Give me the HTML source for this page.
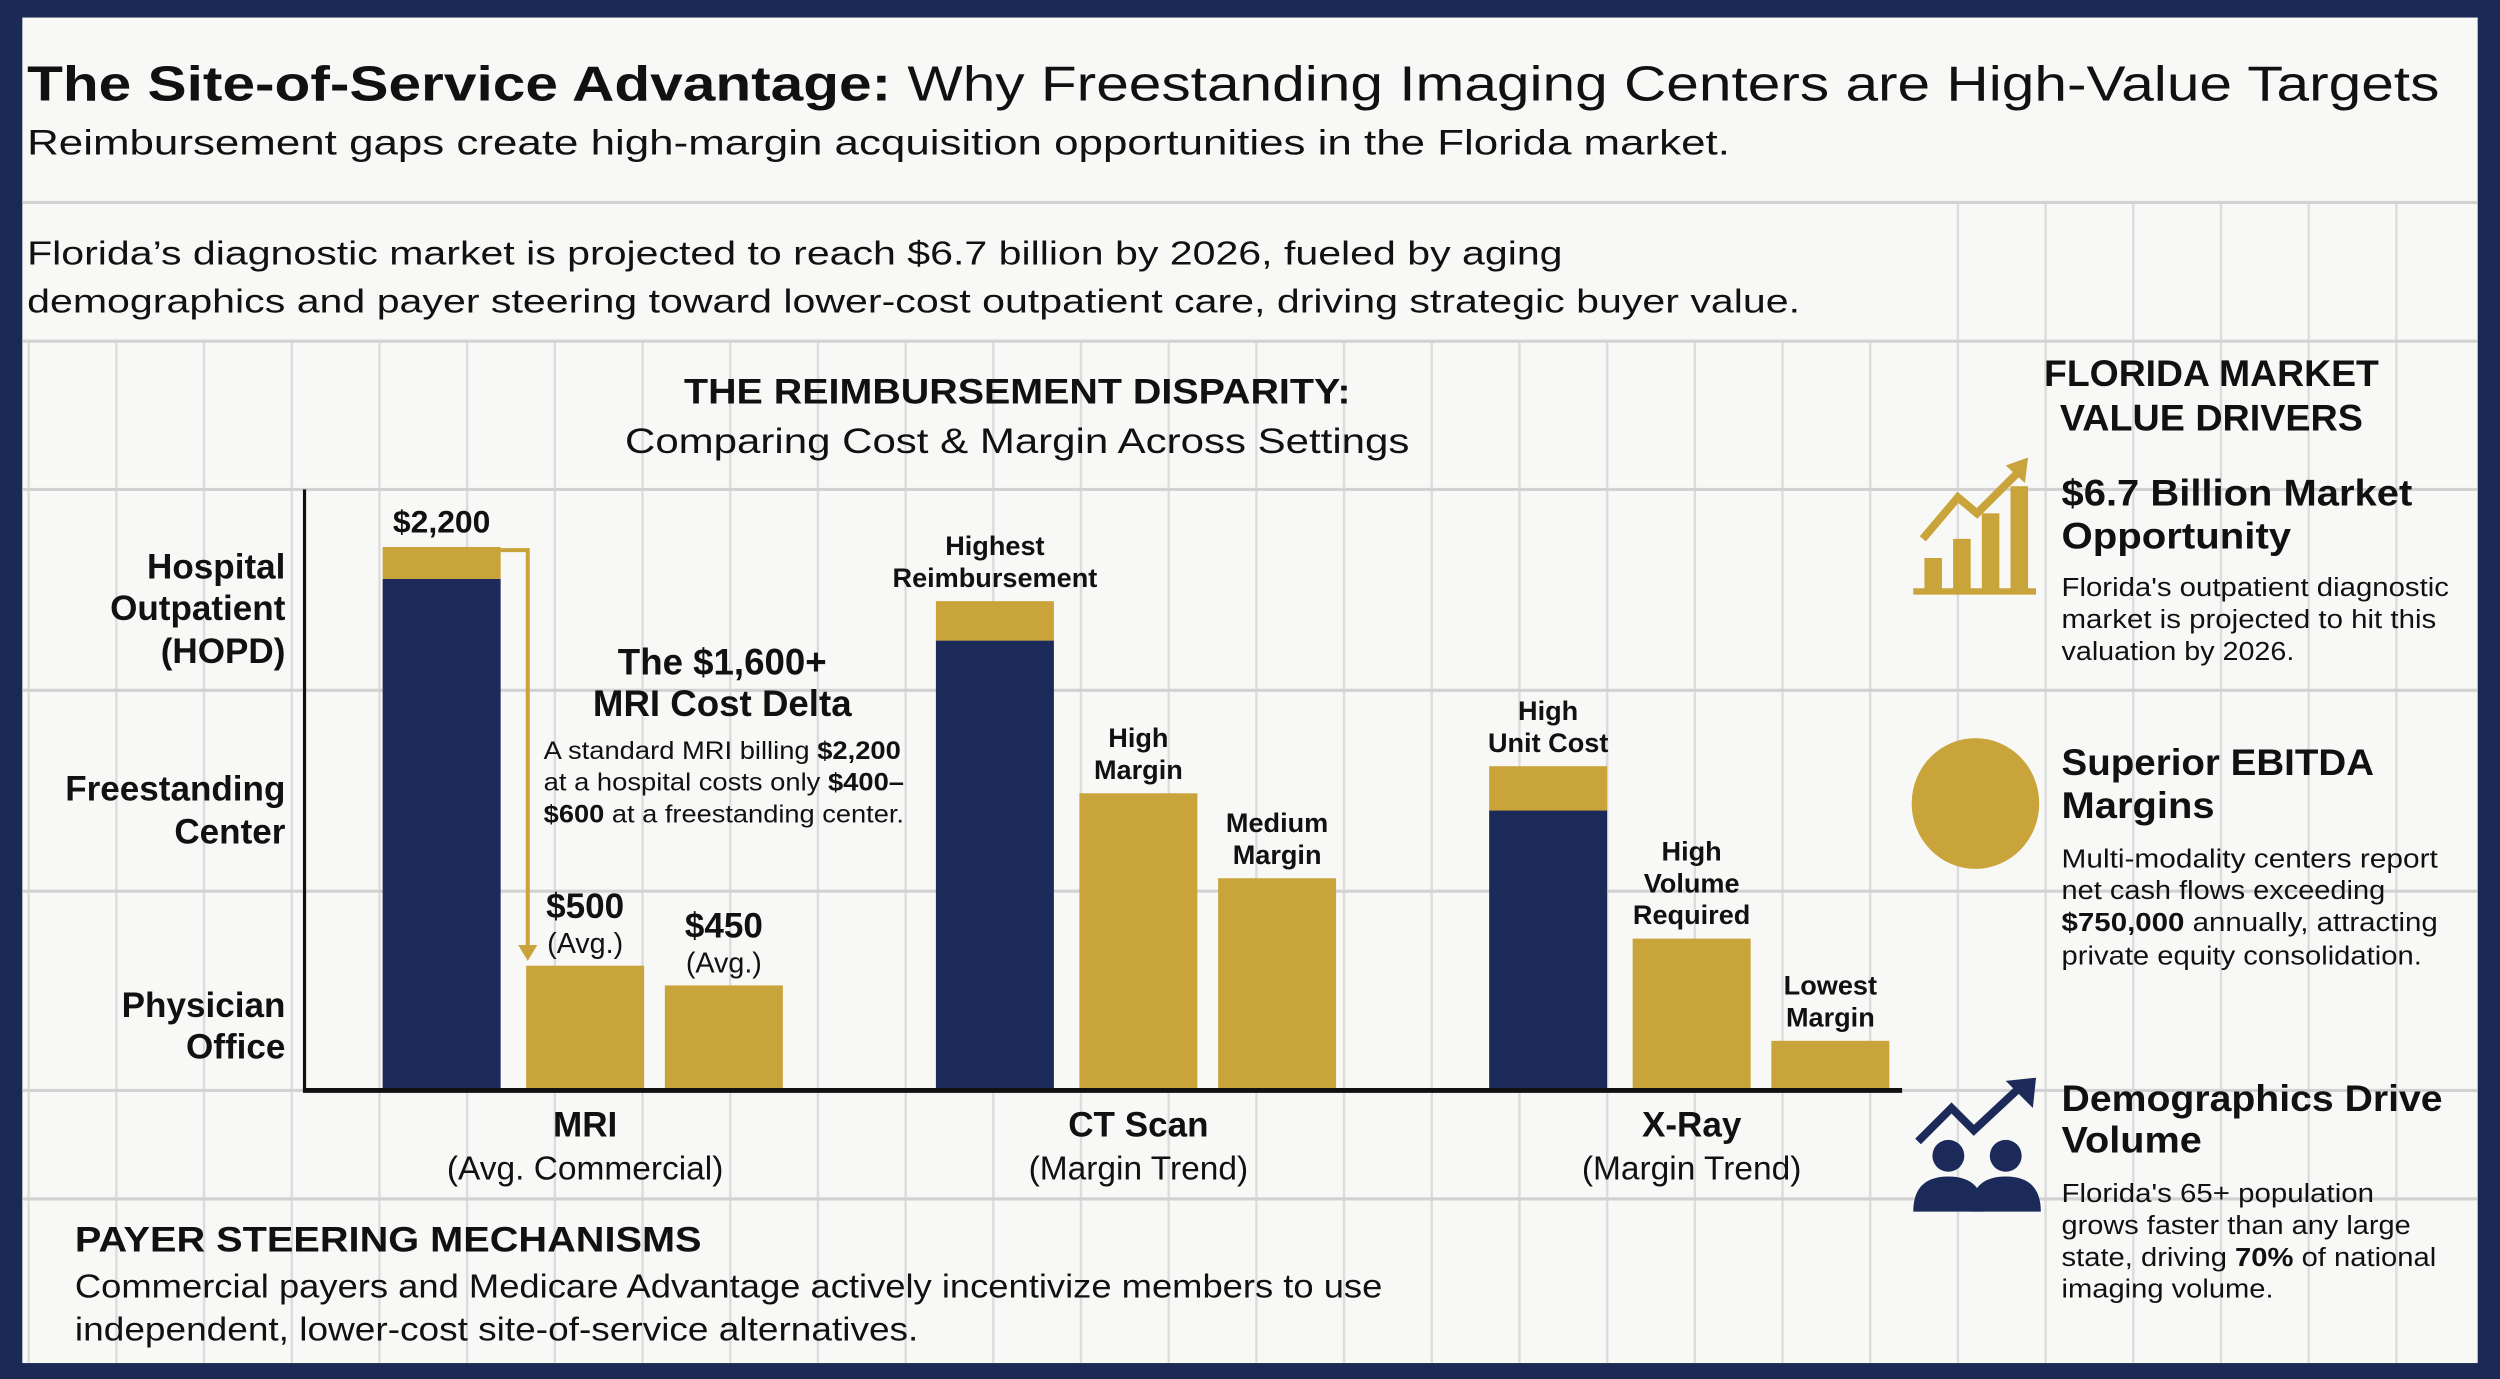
<!DOCTYPE html>
<html><head><meta charset="utf-8"><style>
html,body{margin:0;padding:0;background:#1b2a55;}
svg{display:block;font-family:"Liberation Sans",sans-serif;}
</style></head><body>
<svg id="chart" width="2500" height="1379" viewBox="0 0 1568 865" preserveAspectRatio="none" xmlns="http://www.w3.org/2000/svg">
<rect x="0" y="0" width="1568" height="865" fill="#1b2a55"/>
<rect x="14" y="11" width="1540" height="844" fill="#f8f8f7"/>
<g id="grid"></g>
<text x="17" y="63" font-size="31" fill="#111" textLength="1513" lengthAdjust="spacingAndGlyphs"><tspan font-weight="bold">The Site-of-Service Advantage:</tspan> Why Freestanding Imaging Centers are High-Value Targets</text>
<text x="17" y="97" font-size="22" fill="#111" textLength="1068" lengthAdjust="spacingAndGlyphs">Reimbursement gaps create high-margin acquisition opportunities in the Florida market.</text>
<text x="17" y="166" font-size="21" fill="#111" textLength="963" lengthAdjust="spacingAndGlyphs">Florida’s diagnostic market is projected to reach $6.7 billion by 2026, fueled by aging</text>
<text x="17" y="196" font-size="21" fill="#111" textLength="1112" lengthAdjust="spacingAndGlyphs">demographics and payer steering toward lower-cost outpatient care, driving strategic buyer value.</text>
<text x="638" y="253" font-size="22" font-weight="bold" text-anchor="middle" fill="#111" textLength="418" lengthAdjust="spacingAndGlyphs">THE REIMBURSEMENT DISPARITY:</text>
<text x="638" y="284" font-size="22" text-anchor="middle" fill="#111" textLength="492" lengthAdjust="spacingAndGlyphs">Comparing Cost &amp; Margin Across Settings</text>
<g font-size="22" font-weight="bold" fill="#111" text-anchor="end">
<text x="179" y="363">Hospital</text>
<text x="179" y="389">Outpatient</text>
<text x="179" y="416">(HOPD)</text>
<text x="179" y="502">Freestanding</text>
<text x="179" y="529">Center</text>
<text x="179" y="638">Physician</text>
<text x="179" y="664">Office</text>
</g>
<g id="bars"></g>
<g id="labels"></g>
<line x1="191" y1="307" x2="191" y2="684" stroke="#111" stroke-width="2"/>
<line x1="190" y1="684" x2="1193" y2="684" stroke="#111" stroke-width="3"/>
<g id="arrow"></g>
<g fill="#111">
<text x="453" y="423" font-size="23" font-weight="bold" text-anchor="middle">The $1,600+</text>
<text x="453" y="449" font-size="23" font-weight="bold" text-anchor="middle">MRI Cost Delta</text>
<text x="341" y="476" font-size="15.5" textLength="224" lengthAdjust="spacingAndGlyphs">A standard MRI billing <tspan font-weight="bold">$2,200</tspan></text>
<text x="341" y="496" font-size="15.5" textLength="226" lengthAdjust="spacingAndGlyphs">at a hospital costs only <tspan font-weight="bold">$400–</tspan></text>
<text x="341" y="516" font-size="15.5" textLength="226" lengthAdjust="spacingAndGlyphs"><tspan font-weight="bold">$600</tspan> at a freestanding center.</text>
</g>
<g id="xlabels" fill="#111" text-anchor="middle"></g>
<text x="47" y="785" font-size="22" font-weight="bold" fill="#111" textLength="393" lengthAdjust="spacingAndGlyphs">PAYER STEERING MECHANISMS</text>
<text x="47" y="814" font-size="21" fill="#111" textLength="820" lengthAdjust="spacingAndGlyphs">Commercial payers and Medicare Advantage actively incentivize members to use</text>
<text x="47" y="841" font-size="21" fill="#111" textLength="529" lengthAdjust="spacingAndGlyphs">independent, lower-cost site-of-service alternatives.</text>
<g fill="#111">
<text x="1387" y="242" font-size="23" font-weight="bold" text-anchor="middle" textLength="210" lengthAdjust="spacingAndGlyphs">FLORIDA MARKET</text>
<text x="1387" y="270" font-size="23" font-weight="bold" text-anchor="middle" textLength="190" lengthAdjust="spacingAndGlyphs">VALUE DRIVERS</text>
<g fill="#c9a43a">
<rect x="1207" y="350" width="11" height="20"/><rect x="1225" y="338" width="11" height="32"/><rect x="1243" y="322" width="11" height="48"/><rect x="1261" y="305" width="11" height="65"/>
<rect x="1200" y="369" width="77" height="4"/>
<polyline points="1206,338 1228,312 1240,322 1266,296" fill="none" stroke="#c9a43a" stroke-width="5"/>
<polygon points="1258,292 1272,287 1270,303"/>
</g>
<text x="1293" y="317" font-size="23" font-weight="bold" textLength="220" lengthAdjust="spacingAndGlyphs">$6.7 Billion Market</text>
<text x="1293" y="344" font-size="23" font-weight="bold" textLength="144" lengthAdjust="spacingAndGlyphs">Opportunity</text>
<text x="1293" y="374" font-size="16" textLength="243" lengthAdjust="spacingAndGlyphs">Florida's outpatient diagnostic</text>
<text x="1293" y="394" font-size="16" textLength="235" lengthAdjust="spacingAndGlyphs">market is projected to hit this</text>
<text x="1293" y="414" font-size="16" textLength="146" lengthAdjust="spacingAndGlyphs">valuation by 2026.</text>
<ellipse cx="1239" cy="504" rx="40" ry="41" fill="#c9a43a"/>
<text x="1293" y="486" font-size="23" font-weight="bold" textLength="196" lengthAdjust="spacingAndGlyphs">Superior EBITDA</text>
<text x="1293" y="513" font-size="23" font-weight="bold" textLength="96" lengthAdjust="spacingAndGlyphs">Margins</text>
<text x="1293" y="544" font-size="16" textLength="236" lengthAdjust="spacingAndGlyphs">Multi-modality centers report</text>
<text x="1293" y="564" font-size="16" textLength="203" lengthAdjust="spacingAndGlyphs">net cash flows exceeding</text>
<text x="1293" y="584" font-size="16" textLength="236" lengthAdjust="spacingAndGlyphs"><tspan font-weight="bold">$750,000</tspan> annually, attracting</text>
<text x="1293" y="605" font-size="16" textLength="226" lengthAdjust="spacingAndGlyphs">private equity consolidation.</text>
<g fill="#1c2a5a">
<polyline points="1203,716 1224,695 1238,709 1268,681" fill="none" stroke="#1c2a5a" stroke-width="5"/>
<polygon points="1258,678 1277,676 1275,695"/>
<circle cx="1222" cy="725" r="10"/><path d="M1200,760 Q1200,738 1222,738 Q1244,738 1244,760 Z"/>
<circle cx="1258" cy="725" r="10"/><path d="M1236,760 Q1236,738 1258,738 Q1280,738 1280,760 Z"/>
</g>
<text x="1293" y="697" font-size="23" font-weight="bold" textLength="239" lengthAdjust="spacingAndGlyphs">Demographics Drive</text>
<text x="1293" y="723" font-size="23" font-weight="bold" textLength="88" lengthAdjust="spacingAndGlyphs">Volume</text>
<text x="1293" y="754" font-size="16" textLength="196" lengthAdjust="spacingAndGlyphs">Florida's 65+ population</text>
<text x="1293" y="774" font-size="16" textLength="219" lengthAdjust="spacingAndGlyphs">grows faster than any large</text>
<text x="1293" y="794" font-size="16" textLength="235" lengthAdjust="spacingAndGlyphs">state, driving <tspan font-weight="bold">70%</tspan> of national</text>
<text x="1293" y="814" font-size="16" textLength="133" lengthAdjust="spacingAndGlyphs">imaging volume.</text>
</g>
</svg>
<script>
const categories = ['MRI', 'CT Scan', 'X-Ray'];
const subtitles = ['(Avg. Commercial)', '(Margin Trend)', '(Margin Trend)'];
const settings = ['Hospital Outpatient', 'Freestanding Center', 'Physician Office'];
const costValues = [2070, 0, 0, 1820, 0, 0, 1130, 0, 0];
const marginValues = [130, 500, 420, 160, 1200, 855, 180, 610, 195];
const barLabels = [['$2,200'], [], [], ['Highest', 'Reimbursement'], ['High', 'Margin'], ['Medium', 'Margin'], ['High', 'Unit Cost'], ['High', 'Volume', 'Required'], ['Lowest', 'Margin']];
const priceLabels = ['', '$500', '$450', '', '', '', '', '', ''];

const NS = 'http://www.w3.org/2000/svg';
const NAVY = '#1c2a5a', GOLD = '#c9a43a';
function yScale(v) { return 683 - v * 0.1545; }
function xBand(i) { const g = Math.floor(i / 3), s = i % 3; return 240 + g * 347 + [0, 90, 177][s]; }
const BW = 74;
function mk(tag, attrs, parent) { const e = document.createElementNS(NS, tag); for (const k in attrs) e.setAttribute(k, attrs[k]); parent.appendChild(e); return e; }

// grid
const grid = document.getElementById('grid');
for (let x = 18; x < 1554; x += 55) {
  const top = x > 1200 ? 127 : 214;
  const l = mk('line', {x1: x, y1: top, x2: x, y2: 855, stroke: '#dcdcdc', 'stroke-width': 1.5}, grid);
  
  
}
[127, 214, 307, 433, 559, 684, 752].forEach(y => {
  const l = mk('line', {x1: 14, y1: y, x2: 1554, y2: y, stroke: '#d2d2d2', 'stroke-width': 2}, grid);
  
  
});

// bars
const bars = document.getElementById('bars');
const labels = document.getElementById('labels');
for (let i = 0; i < costValues.length; i++) {
  const x = xBand(i);
  const c = costValues[i], m = marginValues[i];
  if (c > 0) {
    const r = mk('rect', {x: x, y: yScale(c), width: BW, height: 683 - yScale(c), fill: NAVY}, bars);
    
    
  }
  const r2 = mk('rect', {x: x, y: yScale(c + m), width: BW, height: yScale(c) - yScale(c + m), fill: GOLD}, bars);
  
  
  const top = yScale(c + m);
  const cx = x + BW / 2;
  const lines = barLabels[i];
  if (lines.length) {
    const big = i === 0;
    const lh = 20;
    lines.forEach((t, j) => {
      const tx = mk('text', {x: cx, y: top - 9 - (lines.length - 1 - j) * lh, 'font-size': big ? 20 : 17, 'font-weight': 'bold', 'text-anchor': 'middle', fill: '#111'}, labels);
      tx.textContent = t;
      
      
    });
  }
  if (priceLabels[i]) {
    const t1 = mk('text', {x: cx, y: top - 30, 'font-size': 22, 'font-weight': 'bold', 'text-anchor': 'middle', fill: '#111'}, labels);
    t1.textContent = priceLabels[i];
    
    
    const t2 = mk('text', {x: cx, y: top - 8, 'font-size': 18, 'text-anchor': 'middle', fill: '#111'}, labels);
    t2.textContent = '(Avg.)';
    
    
  }
}

// arrow from HOPD top to freestanding top
const arrow = document.getElementById('arrow');
const aTop = yScale(costValues[0] + marginValues[0]) + 2;
const aBot = yScale(costValues[1] + marginValues[1]) - 3;
mk('polyline', {points: (xBand(0) + BW) + ',' + aTop + ' 331,' + aTop + ' 331,' + (aBot - 8), fill: 'none', stroke: GOLD, 'stroke-width': 2.5}, arrow);
mk('polygon', {points: '325,' + (aBot - 10) + ' 337,' + (aBot - 10) + ' 331,' + aBot, fill: GOLD}, arrow);

// x labels
const xl = document.getElementById('xlabels');
categories.forEach((c, g) => {
  const cx = xBand(g * 3 + 1) + BW / 2;
  const t = mk('text', {x: cx, y: 713, 'font-size': 22, 'font-weight': 'bold'}, xl);
  t.textContent = c;
  
  
  const t2 = mk('text', {x: cx, y: 740, 'font-size': 21}, xl);
  t2.textContent = subtitles[g];
  
  
});
</script>
</body></html>
